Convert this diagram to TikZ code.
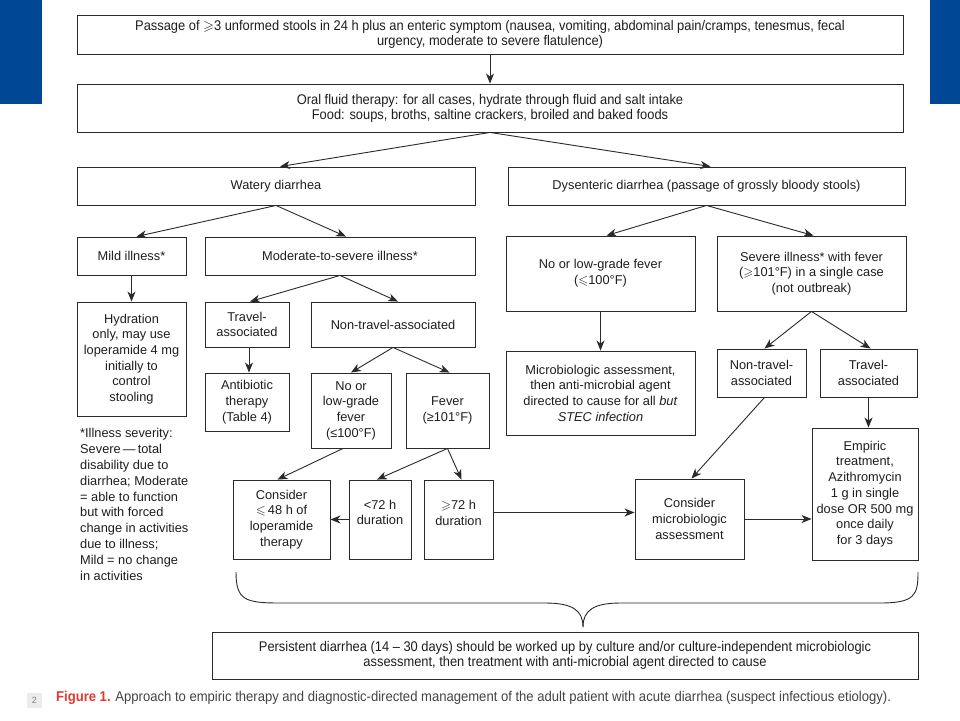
\documentclass[tikz,border=0pt]{standalone}
\usepackage{fontspec}
\usepackage{amssymb}
\setmainfont{Liberation Sans}
\newfontfamily\narrowfont{Liberation Sans}[FakeStretch=0.92]
\usetikzlibrary{arrows.meta}
\definecolor{linec}{HTML}{2A2A2A}
\definecolor{textc}{HTML}{1E1E1E}
\definecolor{barblue}{HTML}{004896}
\definecolor{capred}{HTML}{E03A2E}
\definecolor{capgray}{HTML}{444444}
\begin{document}
\begin{tikzpicture}[x=1pt,y=-1pt,
 box/.style={draw=linec, line width=0.9pt, align=center, inner sep=1pt, text=textc, font=\fontsize{12.8}{15.7}\selectfont},
 wide/.style={box, font=\narrowfont\fontsize{14}{14.8}\selectfont},
 txt/.style={align=center, inner sep=0pt, text=textc, font=\fontsize{12.8}{15.7}\selectfont},
 arr/.style={draw=linec, line width=0.9pt, -{Stealth[length=10pt,width=8pt,inset=3pt]}},
 plain/.style={draw=linec, line width=0.9pt}]
\useasboundingbox (0,0) rectangle (960,720);
\fill[white] (0,0) rectangle (960,720);
\fill[barblue] (0,0) rectangle (42,104);
\fill[barblue] (930,0) rectangle (960,104);

% top levels
\node[wide, minimum width=826pt, minimum height=39pt] (top) at (490,34.5) {Passage of $\geqslant$3 unformed stools in 24 h plus an enteric symptom (nausea, vomiting, abdominal pain/cramps, tenesmus, fecal\\urgency, moderate to severe flatulence)};
\node[wide, minimum width=826pt, minimum height=48pt] (oral) at (490,108) {Oral fluid therapy: for all cases, hydrate through fluid and salt intake\\Food: soups, broths, saltine crackers, broiled and baked foods};
\node[box, minimum width=398pt, minimum height=38pt] (watery) at (276,186) {Watery diarrhea};
\node[box, minimum width=397pt, minimum height=38pt] (dys) at (706.5,186) {Dysenteric diarrhea (passage of grossly bloody stools)};

% watery branch
\node[box, minimum width=109pt, minimum height=38pt] (mild) at (131.5,256) {Mild illness*};
\node[box, minimum width=270pt, minimum height=38pt] (mod) at (340,256) {Moderate-to-severe illness*};
\node[box, minimum width=109pt, minimum height=114pt] (hyd) at (131.5,359) {Hydration\\only, may use\\loperamide 4 mg\\initially to\\control\\stooling};
\node[box, minimum width=84pt, minimum height=45pt] (travL) at (247,324.5) {Travel-\\associated};
\node[box, minimum width=164pt, minimum height=45pt] (ntravL) at (393,324.5) {Non-travel-associated};
\node[box, minimum width=84pt, minimum height=58pt] (anti) at (247,402) {Antibiotic\\therapy\\(Table 4)};
\node[box, minimum width=80pt, minimum height=75pt] (nolow) at (351,410.5) {No or\\low-grade\\fever\\(≤100°F)};
\node[box, minimum width=83pt, minimum height=75pt] (fever) at (447.5,410.5) {Fever\\(≥101°F)};
\node[box, minimum width=97pt, minimum height=79pt] (lop) at (281.5,519.5) {Consider\\$\leqslant$\,48 h of\\loperamide\\therapy};
\node[box, minimum width=62pt, minimum height=79pt] (lt72) at (380,519.5) {};
\node[txt] (lt72t) at (380,512.5) {<72 h\\duration};
\node[box, minimum width=69pt, minimum height=79pt] (ge72) at (458.5,519.5) {};
\node[txt] (ge72t) at (458.5,513) {$\geqslant$72 h\\duration};

% footnote
\node[anchor=north west, align=left, inner sep=0pt, text=textc, font=\fontsize{12.8}{15.9}\selectfont] (note) at (80,428) {*Illness severity:\\Severe\,—\,total\\disability due to\\diarrhea; Moderate\\= able to function\\but with forced\\change in activities\\due to illness;\\Mild = no change\\in activities};

% dysenteric branch
\node[box, minimum width=189pt, minimum height=75pt] (nolowR) at (600.5,273.5) {No or low-grade fever\\($\leqslant$100°F)};
\node[box, minimum width=189pt, minimum height=75pt] (sev) at (811.5,273.5) {Severe illness* with fever\\($\geqslant$101°F) in a single case\\(not outbreak)};
\node[box, minimum width=189pt, minimum height=84pt] (micro) at (600.5,393) {Microbiologic assessment,\\then anti-microbial agent\\directed to cause for all \textit{but}\\\textit{STEC infection}};
\node[box, minimum width=89pt, minimum height=48pt] (ntravR) at (761.5,373) {Non-travel-\\associated};
\node[box, minimum width=97pt, minimum height=48pt] (travR) at (868.5,373) {Travel-\\associated};
\node[box, minimum width=106pt, minimum height=132pt] (emp) at (865,494) {Empiric\\treatment,\\Azithromycin\\1 g in single\\dose OR 500 mg\\once daily\\for 3 days};
\node[box, minimum width=109pt, minimum height=80pt] (cmicro) at (689.5,519) {Consider\\microbiologic\\assessment};

% persistent
\node[wide, minimum width=706pt, minimum height=47pt] (pers) at (565,655.5) {Persistent diarrhea (14 – 30 days) should be worked up by culture and/or culture-independent microbiologic\\assessment, then treatment with anti-microbial agent directed to cause};

% caption
\node[fill=gray!15, text=gray, font=\fontsize{9}{10}\selectfont, minimum width=15pt, minimum height=15pt, inner sep=0pt] (pg) at (34.5,700.5) {2};
\node[anchor=west, inner sep=0pt, text=capgray, font=\narrowfont\fontsize{14.2}{15}\selectfont] (cap) at (56,698) {\textcolor{capred}{\bfseries Figure 1.} Approach to empiric therapy and diagnostic-directed management of the adult patient with acute diarrhea (suspect infectious etiology).};

% connectors
\draw[arr] (top.south) -- (oral.south |- oral.north);
\draw[arr] (oral.south) -- ([xshift=4pt]watery.north);
\draw[arr] (oral.south) -- ([xshift=4pt]dys.north);
\draw[arr] (watery.south) -- ([xshift=5pt]mild.north);
\draw[arr] (watery.south) -- ([xshift=6pt]mod.north);
\draw[arr] (mild.south) -- (hyd.north);
\draw[arr] (mod.south) -- ([xshift=3pt]travL.north);
\draw[arr] (mod.south) -- ([xshift=5pt]ntravL.north);
\draw[arr] ([xshift=2pt]travL.south) -- ([xshift=2pt]anti.north);
\draw[arr] (ntravL.south) -- (nolow.north);
\draw[arr] (ntravL.south) -- ([xshift=2pt]fever.north);
\draw[arr] ([xshift=-8pt]nolow.south) -- ([xshift=-4pt]lop.north);
\draw[arr] (fever.south) -- ([xshift=-3pt]lt72.north);
\draw[arr] (fever.south) -- ([xshift=3pt]ge72.north);
\draw[arr] (lt72.west) -- (lop.east);
\draw[arr] ([yshift=7pt]ge72.east) -- ([yshift=7pt]ge72.east -| cmicro.west);
\draw[arr] (dys.south) -- ([xshift=6pt]nolowR.north);
\draw[arr] (dys.south) -- ([xshift=2pt]sev.north);
\draw[arr] (nolowR.south) -- (micro.north);
\draw[arr] (sev.south) -- ([xshift=3pt]ntravR.north);
\draw[arr] (sev.south) -- ([xshift=2pt]travR.north);
\draw[arr] ([xshift=3pt]ntravR.south) -- ([xshift=2pt]cmicro.north);
\draw[arr] (travR.south) -- (travR.south |- emp.north);
\draw[arr] (cmicro.east) -- (cmicro.east -| emp.west);

% brace
\coordinate (bl) at (236,572);
\coordinate (br) at (918,572);
\coordinate (btip) at (583,627);
\draw[plain] (bl) .. controls (236,600) and (245,603) .. (280,603) -- (545,603) .. controls (572,603) and (583,610) .. (btip);
\draw[plain] (btip) .. controls (583,610) and (594,603) .. (621,603) -- (880,603) .. controls (915,603) and (918,595) .. (br);
\end{tikzpicture}
\end{document}
